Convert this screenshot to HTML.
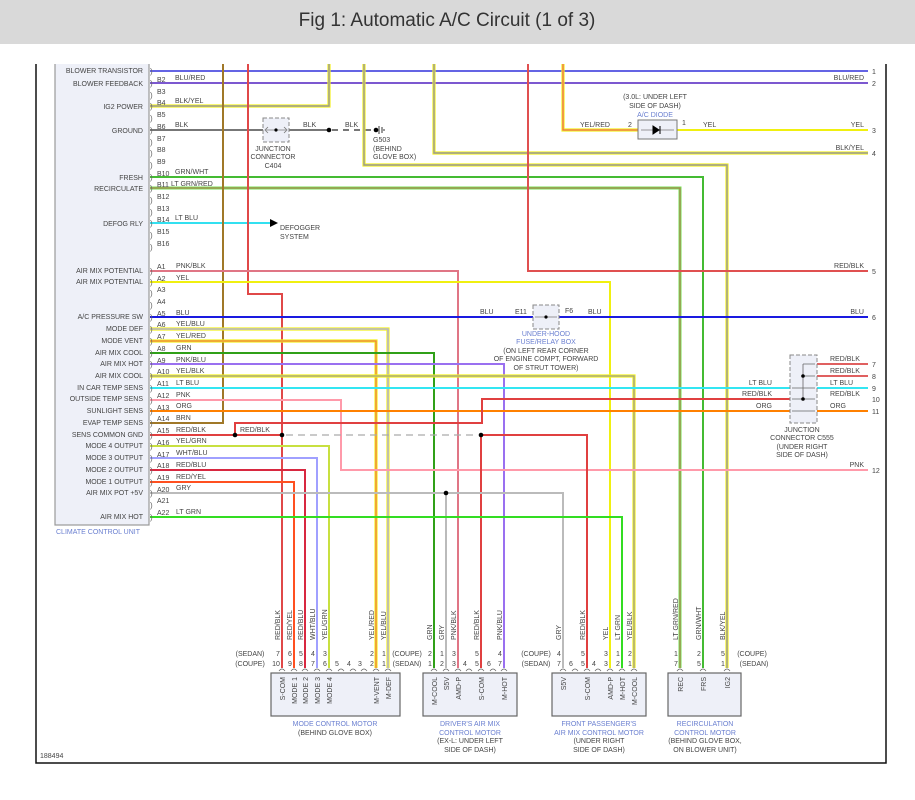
<!DOCTYPE html>
<html><head><meta charset="utf-8"><style>
html,body{margin:0;padding:0;background:#fff;}
svg{display:block;font-family:"Liberation Sans",sans-serif;}
.t{font-size:7px;fill:#444;}
.b{font-size:7px;fill:#6a7fd0;}
.w{fill:none;stroke-width:2;}
.y3{fill:none;stroke:#f2f020;stroke-width:3.2;}
</style></head><body>
<svg width="915" height="800" viewBox="0 0 915 800" xmlns="http://www.w3.org/2000/svg">
<rect x="0" y="0" width="915" height="44" fill="#d9d9d9"/>
<text x="447" y="26" text-anchor="middle" font-size="19" fill="#333">Fig 1: Automatic A/C Circuit (1 of 3)</text>

<!-- frame -->
<path d="M36 64 V763 H886 V64" fill="none" stroke="#111" stroke-width="1.5"/>
<!-- CCU box -->
<rect x="55" y="60" width="94" height="465" fill="#eef0f8" stroke="#999" stroke-width="1.2"/>

<!-- wires -->
<g>
<path class="w" stroke="#6464e4" d="M150 71 H868"/>
<path class="w" stroke="#7c58d0" d="M150 83 H868"/>
<path class="y3" d="M150 106 H329 V60"/><path fill="none" stroke="#999" stroke-width="1.4" d="M150 106 H329 V60"/>
<path class="w" stroke="#777" d="M150 130 H263 M289 130 H329"/>
<path fill="none" stroke="#777" stroke-width="2" stroke-dasharray="6,5" d="M332 130 H373"/>
<path class="w" stroke="#44bb33" d="M150 177 H703 V668"/>
<path fill="none" stroke="#77e055" stroke-width="3" d="M150 188 H680 V668"/><path fill="none" stroke="#b07050" stroke-width="1" d="M150 188 H680 V668"/>
<path class="w" stroke="#33e0f0" d="M150 223 H270"/>
<path d="M270 219 L278 223 L270 227 Z" fill="#000"/>
<path class="w" stroke="#a07828" d="M150 423 H223 V60"/>
<path class="w" stroke="#e04848" d="M248 60 V294 H282 V668"/>
<path class="y3" d="M364 60 V165 H727 V668"/><path fill="none" stroke="#999" stroke-width="1.4" d="M364 60 V165 H727 V668"/>
<path class="y3" d="M434 60 V153 H868"/><path fill="none" stroke="#999" stroke-width="1.4" d="M434 60 V153 H868"/>
<path class="w" stroke="#e05050" d="M528 60 V271 H868"/>
<path class="y3" d="M563 60 V130 H638"/><path fill="none" stroke="#f07050" stroke-width="1.3" d="M563 60 V130 H638"/>
<path class="w" stroke="#f0f010" stroke-width="2.5" d="M677 130 H868"/>
<path class="w" stroke="#e07585" d="M150 271 H458 V668"/>
<path class="w" stroke="#f0f010" stroke-width="2.5" d="M150 282 H610 V668"/>
<path class="w" stroke="#1a1ae0" d="M150 317 H533 M559 317 H868"/>
<path class="y3" d="M150 329 H388 V668"/><path fill="none" stroke="#a8a8f0" stroke-width="1.3" d="M150 329 H388 V668"/>
<path class="y3" d="M150 341 H376 V668"/><path fill="none" stroke="#f08040" stroke-width="1.3" d="M150 341 H376 V668"/>
<path class="w" stroke="#30a018" d="M150 353 H434 V668"/>
<path class="w" stroke="#9a70f0" d="M150 364 H504 V668"/>
<path class="y3" d="M150 376 H634 V668"/><path fill="none" stroke="#a0a090" stroke-width="1.3" d="M150 376 H634 V668"/>
<path class="w" stroke="#33e6f2" d="M150 388 H790 M817 388 H868"/>
<path class="w" stroke="#ff9aaa" d="M150 400 H341 V470 H868"/>
<path class="w" stroke="#ff8000" d="M150 411 H790 M817 411 H868"/>
<path class="w" stroke="#e04040" d="M150 435 H282 M235 435 V423 H482 V399 H790 M481 435 V668 M481 435 H587 V668"/>
<path fill="none" stroke="#aaa" stroke-width="1.3" stroke-dasharray="7,5" d="M286 435 H478"/>
<path class="w" stroke="#c8e040" d="M150 446 H329 V668"/>
<path class="w" stroke="#a0a0ff" d="M150 458 H317 V668"/>
<path class="w" stroke="#d82840" d="M150 470 H305 V668"/>
<path class="w" stroke="#ff5020" d="M150 482 H294 V668"/>
<path class="w" stroke="#bbb" d="M150 493 H563 V668 M446 493 V668"/>
<path class="w" stroke="#33dd22" d="M150 517 H622 V668"/>
<path class="w" stroke="#e06060" d="M817 364 H868 M817 376 H868"/>
</g>
<!-- dots -->
<g fill="#000">
<circle cx="329" cy="130" r="2.3"/><circle cx="235" cy="435" r="2.3"/><circle cx="282" cy="435" r="2.3"/>
<circle cx="481" cy="435" r="2.3"/><circle cx="446" cy="493" r="2.3"/>
<circle cx="376" cy="130" r="2.3"/>
</g>
<path d="M379 126 V134 M382 127 V133 M384 129 V131" stroke="#333" stroke-width="1"/>

<!-- top clip -->
<rect x="0" y="44" width="915" height="20" fill="#fff"/>

<!-- C404 -->
<rect x="263" y="118" width="26" height="24" fill="#eef0f8" stroke="#888" stroke-dasharray="4,2"/>
<path d="M266 130 H286 M268 127 L265 130 L268 133 M284 127 L287 130 L284 133" fill="none" stroke="#777" stroke-width="0.8"/>
<circle cx="276" cy="130" r="1.6"/>
<text class="t" x="273" y="151" text-anchor="middle">JUNCTION</text>
<text class="t" x="273" y="159" text-anchor="middle">CONNECTOR</text>
<text class="t" x="273" y="168" text-anchor="middle">C404</text>
<text class="t" x="373" y="142">G503</text>
<text class="t" x="373" y="151">(BEHIND</text>
<text class="t" x="373" y="159">GLOVE BOX)</text>
<text class="t" x="280" y="230">DEFOGGER</text>
<text class="t" x="280" y="239">SYSTEM</text>

<!-- diode -->
<rect x="638" y="120" width="39" height="19" fill="#eef0f8" stroke="#777"/>
<path d="M641 130 H674" stroke="#777" stroke-width="0.8"/>
<path d="M653 126 L659 130 L653 134 Z M660 126 V134" fill="#000" stroke="#000" stroke-width="1"/>
<text class="t" x="655" y="99" text-anchor="middle">(3.0L: UNDER LEFT</text>
<text class="t" x="655" y="108" text-anchor="middle">SIDE OF DASH)</text>
<text class="b" x="655" y="117" text-anchor="middle">A/C DIODE</text>
<text class="t" x="580" y="127">YEL/RED</text><text class="t" x="628" y="127">2</text>
<text class="t" x="682" y="125">1</text><text class="t" x="703" y="127">YEL</text>

<!-- E11/F6 -->
<rect x="533" y="305" width="26" height="24" fill="#eef0f8" stroke="#888" stroke-dasharray="4,2"/>
<path d="M535 317 H557" stroke="#777" stroke-width="0.8"/><circle cx="546" cy="317" r="1.6"/>
<text class="t" x="480" y="314">BLU</text><text class="t" x="515" y="314">E11</text>
<text class="t" x="565" y="313">F6</text><text class="t" x="588" y="314">BLU</text>
<text class="b" x="546" y="336" text-anchor="middle">UNDER-HOOD</text>
<text class="b" x="546" y="344" text-anchor="middle">FUSE/RELAY BOX</text>
<text class="t" x="546" y="353" text-anchor="middle">(ON LEFT REAR CORNER</text>
<text class="t" x="546" y="361" text-anchor="middle">OF ENGINE COMPT, FORWARD</text>
<text class="t" x="546" y="370" text-anchor="middle">OF STRUT TOWER)</text>

<!-- C555 -->
<rect x="790" y="355" width="27" height="68" fill="#eef0f8" stroke="#888" stroke-dasharray="4,2"/>
<path d="M803 364 V399 M803 364 H815 M803 376 H815 M792 388 H815 M792 399 H815 M792 411 H815" stroke="#666" stroke-width="0.8" fill="none"/>
<circle cx="803" cy="376" r="1.8"/><circle cx="803" cy="399" r="1.8"/>
<text class="t" x="802" y="432" text-anchor="middle">JUNCTION</text>
<text class="t" x="802" y="440" text-anchor="middle">CONNECTOR C555</text>
<text class="t" x="802" y="449" text-anchor="middle">(UNDER RIGHT</text>
<text class="t" x="802" y="457" text-anchor="middle">SIDE OF DASH)</text>
<g class="t" text-anchor="end">
<text x="772" y="385">LT BLU</text><text x="772" y="396">RED/BLK</text><text x="772" y="408">ORG</text>
</g>
<g class="t">
<text x="830" y="361">RED/BLK</text><text x="830" y="373">RED/BLK</text><text x="830" y="385">LT BLU</text>
<text x="830" y="396">RED/BLK</text><text x="830" y="408">ORG</text>
</g>
<!-- right labels -->
<g class="t" text-anchor="end">
<text x="864" y="80">BLU/RED</text><text x="864" y="127">YEL</text><text x="864" y="150">BLK/YEL</text>
<text x="864" y="268">RED/BLK</text><text x="864" y="314">BLU</text><text x="864" y="467">PNK</text>
</g>
<g class="t">
<text x="872" y="74">1</text><text x="872" y="86">2</text><text x="872" y="133">3</text><text x="872" y="156">4</text>
<text x="872" y="274">5</text><text x="872" y="320">6</text><text x="872" y="367">7</text><text x="872" y="379">8</text>
<text x="872" y="391">9</text><text x="872" y="402">10</text><text x="872" y="414">11</text><text x="872" y="473">12</text>
</g>
<text class="t" x="175" y="127">BLK</text><text class="t" x="303" y="127">BLK</text><text class="t" x="345" y="127">BLK</text>
<text class="t" x="240" y="432">RED/BLK</text>

<!-- CCU labels -->
<g class="t" text-anchor="end">
<text x="143" y="73">BLOWER TRANSISTOR</text><text x="143" y="86">BLOWER FEEDBACK</text>
<text x="143" y="109">IG2 POWER</text><text x="143" y="133">GROUND</text>
<text x="143" y="180">FRESH</text><text x="143" y="191">RECIRCULATE</text><text x="143" y="226">DEFOG RLY</text>
<text x="143" y="273">AIR MIX POTENTIAL</text><text x="143" y="284">AIR MIX POTENTIAL</text>
<text x="143" y="319">A/C PRESSURE SW</text><text x="143" y="331">MODE DEF</text><text x="143" y="343">MODE VENT</text>
<text x="143" y="355">AIR MIX COOL</text><text x="143" y="366">AIR MIX HOT</text><text x="143" y="378">AIR MIX COOL</text>
<text x="143" y="390">IN CAR TEMP SENS</text><text x="143" y="401">OUTSIDE TEMP SENS</text><text x="143" y="413">SUNLIGHT SENS</text>
<text x="143" y="425">EVAP TEMP SENS</text><text x="143" y="437">SENS COMMON GND</text><text x="143" y="448">MODE 4 OUTPUT</text>
<text x="143" y="460">MODE 3 OUTPUT</text><text x="143" y="472">MODE 2 OUTPUT</text><text x="143" y="484">MODE 1 OUTPUT</text>
<text x="143" y="495">AIR MIX POT +5V</text><text x="143" y="519">AIR MIX HOT</text>
</g>
<text class="b" x="56" y="534">CLIMATE CONTROL UNIT</text>
<g class="t">
<text x="157" y="82">B2</text><text x="175" y="80">BLU/RED</text><text x="157" y="94">B3</text>
<text x="157" y="105">B4</text><text x="175" y="103">BLK/YEL</text><text x="157" y="117">B5</text>
<text x="157" y="129">B6</text><text x="157" y="141">B7</text><text x="157" y="152">B8</text><text x="157" y="164">B9</text>
<text x="157" y="176">B10</text><text x="175" y="174">GRN/WHT</text>
<text x="157" y="187">B11</text><text x="171" y="186">LT GRN/RED</text>
<text x="157" y="199">B12</text><text x="157" y="211">B13</text>
<text x="157" y="222">B14</text><text x="175" y="220">LT BLU</text>
<text x="157" y="234">B15</text><text x="157" y="246">B16</text>
<text x="157" y="269">A1</text><text x="176" y="268">PNK/BLK</text>
<text x="157" y="281">A2</text><text x="176" y="280">YEL</text>
<text x="157" y="292">A3</text><text x="157" y="304">A4</text>
<text x="157" y="316">A5</text><text x="176" y="315">BLU</text>
<text x="157" y="327">A6</text><text x="176" y="326">YEL/BLU</text>
<text x="157" y="339">A7</text><text x="176" y="338">YEL/RED</text>
<text x="157" y="351">A8</text><text x="176" y="350">GRN</text>
<text x="157" y="363">A9</text><text x="176" y="362">PNK/BLU</text>
<text x="157" y="374">A10</text><text x="176" y="373">YEL/BLK</text>
<text x="157" y="386">A11</text><text x="176" y="385">LT BLU</text>
<text x="157" y="398">A12</text><text x="176" y="397">PNK</text>
<text x="157" y="410">A13</text><text x="176" y="408">ORG</text>
<text x="157" y="421">A14</text><text x="176" y="420">BRN</text>
<text x="157" y="433">A15</text><text x="176" y="432">RED/BLK</text>
<text x="157" y="445">A16</text><text x="176" y="443">YEL/GRN</text>
<text x="157" y="457">A17</text><text x="176" y="455">WHT/BLU</text>
<text x="157" y="468">A18</text><text x="176" y="467">RED/BLU</text>
<text x="157" y="480">A19</text><text x="176" y="479">RED/YEL</text>
<text x="157" y="492">A20</text><text x="176" y="490">GRY</text>
<text x="157" y="503">A21</text>
<text x="157" y="515">A22</text><text x="176" y="514">LT GRN</text>
</g>
<g font-size="8" fill="#666">
<text x="150" y="74">)</text><text x="150" y="86">)</text><text x="150" y="98">)</text><text x="150" y="109">)</text>
<text x="150" y="121">)</text><text x="150" y="133">)</text><text x="150" y="145">)</text><text x="150" y="156">)</text>
<text x="150" y="168">)</text><text x="150" y="180">)</text><text x="150" y="191">)</text><text x="150" y="203">)</text>
<text x="150" y="215">)</text><text x="150" y="226">)</text><text x="150" y="238">)</text><text x="150" y="250">)</text>
<text x="150" y="274">)</text><text x="150" y="285">)</text><text x="150" y="296">)</text><text x="150" y="308">)</text>
<text x="150" y="320">)</text><text x="150" y="332">)</text><text x="150" y="344">)</text><text x="150" y="356">)</text>
<text x="150" y="367">)</text><text x="150" y="379">)</text><text x="150" y="391">)</text><text x="150" y="403">)</text>
<text x="150" y="414">)</text><text x="150" y="426">)</text><text x="150" y="438">)</text><text x="150" y="449">)</text>
<text x="150" y="461">)</text><text x="150" y="473">)</text><text x="150" y="485">)</text><text x="150" y="496">)</text>
<text x="150" y="508">)</text><text x="150" y="520">)</text>
</g>

<!-- motor boxes -->
<g fill="#eef0f8" stroke="#666" stroke-width="1.2">
<rect x="271" y="673" width="129" height="43"/>
<rect x="423" y="673" width="94" height="43"/>
<rect x="552" y="673" width="94" height="43"/>
<rect x="668" y="673" width="73" height="43"/>
</g>
<!-- pin caps -->
<g fill="none" stroke="#666" stroke-width="0.8">
<path d="M279 671 q3 -4 6 0 M291 671 q3 -4 6 0 M302 671 q3 -4 6 0 M314 671 q3 -4 6 0 M326 671 q3 -4 6 0 M338 671 q3 -4 6 0 M350 671 q3 -4 6 0 M361 671 q3 -4 6 0 M373 671 q3 -4 6 0 M385 671 q3 -4 6 0"/>
<path d="M431 671 q3 -4 6 0 M443 671 q3 -4 6 0 M455 671 q3 -4 6 0 M466 671 q3 -4 6 0 M478 671 q3 -4 6 0 M490 671 q3 -4 6 0 M501 671 q3 -4 6 0"/>
<path d="M560 671 q3 -4 6 0 M572 671 q3 -4 6 0 M584 671 q3 -4 6 0 M595 671 q3 -4 6 0 M607 671 q3 -4 6 0 M619 671 q3 -4 6 0 M631 671 q3 -4 6 0"/>
<path d="M677 671 q3 -4 6 0 M700 671 q3 -4 6 0 M724 671 q3 -4 6 0"/>
</g>
<!-- pin numbers -->
<g class="t" text-anchor="middle">
<text x="250" y="656">(SEDAN)</text><text x="250" y="666">(COUPE)</text>
<text x="278" y="656">7</text><text x="290" y="656">6</text><text x="301" y="656">5</text><text x="313" y="656">4</text><text x="325" y="656">3</text><text x="372" y="656">2</text><text x="384" y="656">1</text>
<text x="276" y="666">10</text><text x="290" y="666">9</text><text x="301" y="666">8</text><text x="313" y="666">7</text><text x="325" y="666">6</text><text x="337" y="666">5</text><text x="349" y="666">4</text><text x="360" y="666">3</text><text x="372" y="666">2</text><text x="384" y="666">1</text>
<text x="407" y="656">(COUPE)</text><text x="407" y="666">(SEDAN)</text>
<text x="430" y="656">2</text><text x="442" y="656">1</text><text x="454" y="656">3</text><text x="477" y="656">5</text><text x="500" y="656">4</text>
<text x="430" y="666">1</text><text x="442" y="666">2</text><text x="454" y="666">3</text><text x="465" y="666">4</text><text x="477" y="666">5</text><text x="489" y="666">6</text><text x="500" y="666">7</text>
<text x="536" y="656">(COUPE)</text><text x="536" y="666">(SEDAN)</text>
<text x="559" y="656">4</text><text x="583" y="656">5</text><text x="606" y="656">3</text><text x="618" y="656">1</text><text x="630" y="656">2</text>
<text x="559" y="666">7</text><text x="571" y="666">6</text><text x="583" y="666">5</text><text x="594" y="666">4</text><text x="606" y="666">3</text><text x="618" y="666">2</text><text x="630" y="666">1</text>
<text x="676" y="656">1</text><text x="699" y="656">2</text><text x="723" y="656">5</text>
<text x="676" y="666">7</text><text x="699" y="666">5</text><text x="723" y="666">1</text>
<text x="752" y="656">(COUPE)</text><text x="754" y="666">(SEDAN)</text>
</g>
<!-- vertical wire labels -->
<g class="t">
<text transform="translate(280,640) rotate(-90)">RED/BLK</text>
<text transform="translate(292,640) rotate(-90)">RED/YEL</text>
<text transform="translate(303,640) rotate(-90)">RED/BLU</text>
<text transform="translate(315,640) rotate(-90)">WHT/BLU</text>
<text transform="translate(327,640) rotate(-90)">YEL/GRN</text>
<text transform="translate(374,640) rotate(-90)">YEL/RED</text>
<text transform="translate(386,640) rotate(-90)">YEL/BLU</text>
<text transform="translate(432,640) rotate(-90)">GRN</text>
<text transform="translate(444,640) rotate(-90)">GRY</text>
<text transform="translate(456,640) rotate(-90)">PNK/BLK</text>
<text transform="translate(479,640) rotate(-90)">RED/BLK</text>
<text transform="translate(502,640) rotate(-90)">PNK/BLU</text>
<text transform="translate(561,640) rotate(-90)">GRY</text>
<text transform="translate(585,640) rotate(-90)">RED/BLK</text>
<text transform="translate(608,640) rotate(-90)">YEL</text>
<text transform="translate(620,640) rotate(-90)">LT GRN</text>
<text transform="translate(632,640) rotate(-90)">YEL/BLK</text>
<text transform="translate(678,640) rotate(-90)">LT GRN/RED</text>
<text transform="translate(701,640) rotate(-90)">GRN/WHT</text>
<text transform="translate(725,640) rotate(-90)">BLK/YEL</text>
</g>
<!-- box pin labels -->
<g class="t" text-anchor="end">
<text transform="translate(285,677) rotate(-90)">S-COM</text>
<text transform="translate(297,677) rotate(-90)">MODE 1</text>
<text transform="translate(308,677) rotate(-90)">MODE 2</text>
<text transform="translate(320,677) rotate(-90)">MODE 3</text>
<text transform="translate(332,677) rotate(-90)">MODE 4</text>
<text transform="translate(379,677) rotate(-90)">M-VENT</text>
<text transform="translate(391,677) rotate(-90)">M-DEF</text>
<text transform="translate(437,677) rotate(-90)">M-COOL</text>
<text transform="translate(449,677) rotate(-90)">S5V</text>
<text transform="translate(461,677) rotate(-90)">AMD-P</text>
<text transform="translate(484,677) rotate(-90)">S-COM</text>
<text transform="translate(507,677) rotate(-90)">M-HOT</text>
<text transform="translate(566,677) rotate(-90)">S5V</text>
<text transform="translate(590,677) rotate(-90)">S-COM</text>
<text transform="translate(613,677) rotate(-90)">AMD-P</text>
<text transform="translate(625,677) rotate(-90)">M-HOT</text>
<text transform="translate(637,677) rotate(-90)">M-COOL</text>
<text transform="translate(683,677) rotate(-90)">REC</text>
<text transform="translate(706,677) rotate(-90)">FRS</text>
<text transform="translate(730,677) rotate(-90)">IG2</text>
</g>
<!-- captions -->
<g class="t" text-anchor="middle">
<text class="b" x="335" y="726">MODE CONTROL MOTOR</text><text x="335" y="735">(BEHIND GLOVE BOX)</text>
<text class="b" x="470" y="726">DRIVER'S AIR MIX</text><text class="b" x="470" y="735">CONTROL MOTOR</text>
<text x="470" y="743">(EX-L: UNDER LEFT</text><text x="470" y="752">SIDE OF DASH)</text>
<text class="b" x="599" y="726">FRONT PASSENGER'S</text><text class="b" x="599" y="735">AIR MIX CONTROL MOTOR</text>
<text x="599" y="743">(UNDER RIGHT</text><text x="599" y="752">SIDE OF DASH)</text>
<text class="b" x="705" y="726">RECIRCULATION</text><text class="b" x="705" y="735">CONTROL MOTOR</text>
<text x="705" y="743">(BEHIND GLOVE BOX,</text><text x="705" y="752">ON BLOWER UNIT)</text>
</g>
<text class="t" x="40" y="758" fill="#222">188494</text>
</svg>
</body></html>
